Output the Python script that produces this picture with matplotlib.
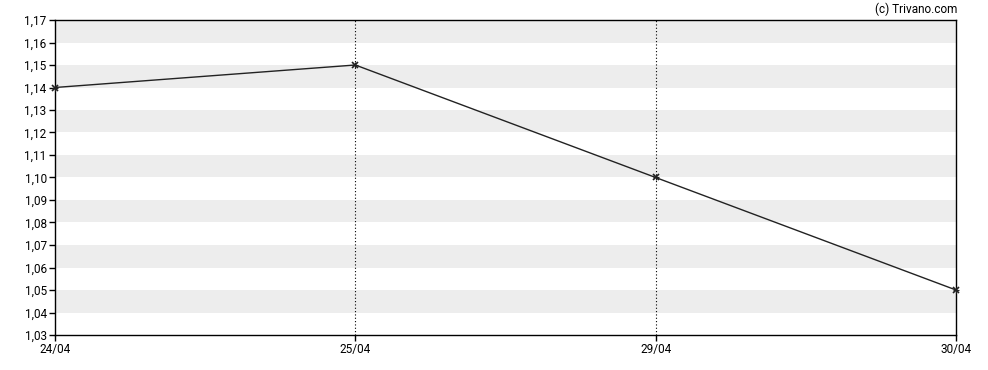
import matplotlib
matplotlib.use("Agg")
import matplotlib.pyplot as plt
import numpy as np

dates = ["24/04", "25/04", "29/04", "30/04"]
values = [1.14, 1.15, 1.10, 1.05]
yticks = [1.03, 1.04, 1.05, 1.06, 1.07, 1.08, 1.09, 1.10, 1.11, 1.12, 1.13, 1.14, 1.15, 1.16, 1.17]
vlines_at = ["25/04", "29/04"]

plt.rcParams['font.family'] = ['Roboto', 'DejaVu Sans']

fig = plt.figure(figsize=(9.88, 3.70), dpi=100)
ax = fig.add_axes([55/988, 1 - 335/370, (956-55)/988, (335-20)/370])

x = np.arange(len(dates))
ymin, ymax = 1.03, 1.17
ax.set_xlim(x[0], x[-1])
ax.set_ylim(ymin, ymax)

# alternating bands
for i in range(len(yticks) - 1):
    lo, hi = yticks[i], yticks[i + 1]
    if i % 2 == 1:
        ax.axhspan(lo, hi, color='#ededed', lw=0, zorder=0)

for d in vlines_at:
    ax.axvline(dates.index(d), color='black', lw=0.8, ls=(0, (1, 2)), zorder=1)

ax.plot(x, values, color='#222222', lw=1.0, zorder=3)
ax.plot(x, values, ls='none', marker='x', ms=4, mew=1.2, color='#222222', zorder=4, clip_on=False)
ax.plot(x, values, ls='none', marker='+', ms=4, mew=0.8, color='#222222', zorder=4, clip_on=False)

ax.set_yticks(yticks)
ax.set_yticklabels([f"{v:.2f}".replace('.', ',') for v in yticks])
ax.set_xticks(x)
ax.set_xticklabels(dates)
ax.tick_params(axis='both', direction='out', length=4, width=1, labelsize=8.5, colors='black', pad=2)

for s in ax.spines.values():
    s.set_linewidth(1.0)
    s.set_color('black')

fig.text(957/988, 1 - 9/370, "(c) Trivano.com", ha='right', va='center', fontsize=8.5)

fig.savefig("out.png", dpi=100)
